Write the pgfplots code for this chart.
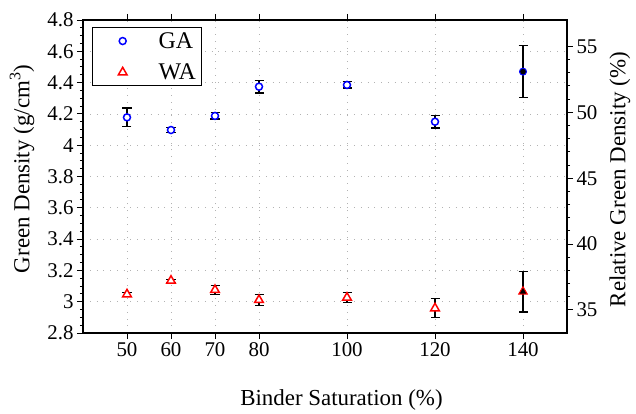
\documentclass[border=0pt]{standalone}
\usepackage{fontspec}
\setmainfont{Liberation Serif}
\usepackage{pgfplots}
\pgfplotsset{compat=1.18}
\pgfplotsset{myleg/.style={legend image code/.code={\path[mark repeat=2,mark phase=2,##1] plot coordinates {(0bp,0bp)(26bp,0bp)(60bp,0bp)};}}}
\begin{document}
\begin{tikzpicture}
\useasboundingbox (-83bp,-81bp) rectangle (553bp,333bp);
\begin{axis}[
  scale only axis, width=484bp, height=313bp,
  xmin=40, xmax=150, ymin=2.8, ymax=4.8,
  xtick={50,60,70,80,100,120,140},
  ytick={2.8,3,3.2,3.4,3.6,3.8,4,4.2,4.4,4.6,4.8},
  yticklabels={2.8,3,3.2,3.4,3.6,3.8,4,4.2,4.4,4.6,4.8},
  minor y tick num=3,
  xtick pos=both, ytick pos=left,
  tick align=outside,
  major tick length=6bp, minor tick length=3bp,
  every tick/.style={black, line width=1pt},
  axis line style={black, line width=1.2pt},
  grid=major,
  major grid style={gray!60, line width=0.8pt, dash pattern=on 0.8pt off 6pt},
  /pgf/number format/assume math mode=true,
  ticklabel style={font=\fontsize{21}{24}\selectfont},
  xlabel={Binder Saturation (\%)},
  ylabel={Green Density (g/cm\textsuperscript{3})},
  label style={font=\fontsize{23}{26}\selectfont},
  xlabel style={at={(axis description cs:0.534,-0.214)}, anchor=center},
  ylabel style={at={(axis description cs:-0.126,0.524)}, anchor=center},
  legend style={at={(axis description cs:0.019,0.978)}, anchor=north west,
    draw=black, line width=1pt, fill=white, font=\fontsize{24}{27}\selectfont,
    inner xsep=4bp, inner ysep=3bp, row sep=10bp},
  legend cell align=left,
  error bars/y dir=both, error bars/y explicit,
  error bars/error mark=-,
  error bars/error bar style={black, line width=1.2pt},
  error bars/error mark options={black, rotate=90, mark size=4.5bp, line width=1.2pt},
]
% error bars first (drawn beneath the markers)
\addplot[forget plot, draw=none, mark=none]
  coordinates {(50,4.178) +- (0,0.06) (60,4.097) +- (0,0.016) (70,4.187) +- (0,0.02)
               (80,4.374) +- (0,0.04) (100,4.385) +- (0,0.02) (120,4.150) +- (0,0.04)
               (140,4.470) +- (0,0.165)};
\addplot[forget plot, draw=none, mark=none]
  coordinates {(50,3.047) +- (0,0.012) (60,3.134) +- (0,0.01) (70,3.075) +- (0,0.027)
               (80,3.011) +- (0,0.035) (100,3.026) +- (0,0.032) (120,2.958) +- (0,0.06)
               (140,3.064) +- (0,0.13)};
% markers
\addplot[draw=none, myleg, mark=*, mark size=3.5bp, mark options={draw=blue, fill=white, line width=1.5pt}, error bars/y dir=none]
  coordinates {(50,4.178) (60,4.097) (70,4.187) (80,4.374) (100,4.385) (120,4.150)};
\addlegendentry{GA}
\addplot[draw=none, myleg, mark=triangle*, mark size=5bp, mark options={draw=red, fill=white, line width=1.5pt}, error bars/y dir=none]
  coordinates {(50,3.047) (60,3.134) (70,3.075) (80,3.011) (100,3.026) (120,2.958)};
\addlegendentry{WA}
\addplot[forget plot, draw=none, mark=*, mark size=3.5bp, mark options={draw=blue, fill=black, line width=1pt}, error bars/y dir=none]
  coordinates {(140,4.470)};
\addplot[forget plot, draw=none, mark=triangle*, mark size=5bp, mark options={draw=red, fill=black, line width=1pt}, error bars/y dir=none]
  coordinates {(140,3.064)};
\end{axis}
\begin{axis}[
  scale only axis, width=484bp, height=313bp,
  xmin=40, xmax=150, ymin=33.254, ymax=57.007,
  axis x line=none, axis y line*=right,
  ytick={35,40,45,50,55}, minor y tick num=4,
  tick align=outside,
  major tick length=6bp, minor tick length=3bp,
  every tick/.style={black, line width=1pt},
  axis line style={black, line width=1.2pt},
  /pgf/number format/assume math mode=true,
  ticklabel style={font=\fontsize{21}{24}\selectfont},
  ylabel={Relative Green Density (\%)},
  label style={font=\fontsize{23}{26}\selectfont},
  ylabel style={at={(axis description cs:1.1095,0.49)}, anchor=center},
]
\end{axis}
\end{tikzpicture}
\end{document}
